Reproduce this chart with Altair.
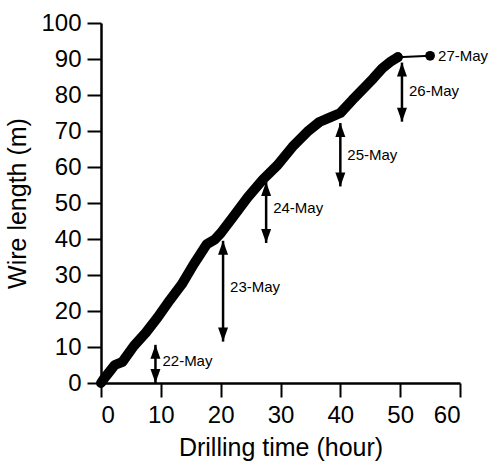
import altair as alt
import pandas as pd

# Drilling progress
hours = [0.0, 0.5, 1.5, 2.3, 3.6, 5.5, 7.5, 9.5, 11.5, 13.5, 15.5, 17.7, 19.0,
         20.0, 22.0, 24.5, 27.1, 29.5, 32.0, 34.5, 36.5, 38.3, 40.0, 42.0,
         44.0, 45.5, 47.0, 48.5, 49.6]
lengths = [0.0, 1.2, 3.3, 5.0, 5.9, 10.3, 14.0, 18.3, 23.0, 27.4, 33.0, 38.6, 39.8,
           41.6, 46.0, 51.5, 56.6, 60.5, 65.6, 69.8, 72.5, 73.8, 75.0, 78.6,
           82.0, 84.6, 87.4, 89.4, 90.5]

end_hours = [49.6, 55.0]
end_lengths = [90.5, 90.9]
end_label = "27-May"

dates = ["22-May", "23-May", "24-May", "25-May", "26-May"]
arrow_x = [9.1, 20.4, 27.6, 40.0, 50.3]
arrow_top = [10.6, 39.5, 55.8, 72.2, 89.0]
arrow_bottom = [0.0, 11.5, 38.9, 54.6, 72.6]
label_y = [6.0, 26.8, 48.5, 63.4, 81.2]

FONT = "Liberation Sans"

curve = pd.DataFrame({"h": hours, "m": lengths, "o": list(range(len(hours)))})
tail = pd.DataFrame({"h": end_hours, "m": end_lengths, "o": [0, 1]})
tail_label = pd.DataFrame({"h": [end_hours[-1]], "m": [end_lengths[-1]], "t": [end_label]})
arrows = pd.DataFrame({"d": dates, "x": arrow_x, "top": arrow_top,
                       "bot": arrow_bottom, "ly": label_y})

xscale = alt.Scale(domain=[0, 60], nice=False, zero=False)
yscale = alt.Scale(domain=[0, 100], nice=False, zero=False)

axis_common = dict(grid=False, tickSize=14, tickWidth=2, tickColor="black",
                   domainColor="black", domainWidth=2.5, labelColor="black",
                   titleColor="black", labelFont=FONT, titleFont=FONT,
                   labelFontSize=24, titleFontSize=25, titleFontWeight="normal")

xaxis = alt.Axis(values=list(range(0, 61, 10)), title="Drilling time (hour)",
                 labelPadding=6, titlePadding=8, **axis_common)
yaxis = alt.Axis(values=list(range(0, 101, 10)), title="Wire length (m)",
                 labelPadding=6, titlePadding=10, **axis_common)

def X(field):
    return alt.X(field, type="quantitative", scale=xscale, axis=xaxis)

def Y(field):
    return alt.Y(field, type="quantitative", scale=yscale, axis=yaxis)

thick = alt.Chart(curve).mark_line(
    color="black", strokeWidth=10, strokeCap="round", strokeJoin="round"
).encode(x=X("h"), y=Y("m"), order="o:Q")

tail_line = alt.Chart(tail).mark_line(color="black", strokeWidth=2).encode(
    x=X("h"), y=Y("m"), order="o:Q")
tail_pts = alt.Chart(tail).mark_circle(color="black", size=95, opacity=1).encode(
    x=X("h"), y=Y("m"))
tail_txt = alt.Chart(tail_label).mark_text(
    align="left", baseline="middle", dx=8, font=FONT, fontSize=15, color="black"
).encode(x=X("h"), y=Y("m"), text="t:N")

shafts = alt.Chart(arrows).mark_rule(color="black", strokeWidth=2.5).encode(
    x=X("x"), y=Y("top"), y2="bot")
head_up = alt.Chart(arrows).mark_point(
    shape="M0,0 L-0.5,1.4 L0.5,1.4 Z", size=400, filled=True, color="black",
    opacity=1, strokeWidth=0
).encode(x=X("x"), y=Y("top"))
head_down = alt.Chart(arrows).mark_point(
    shape="M0,0 L-0.5,-1.4 L0.5,-1.4 Z", size=400, filled=True, color="black",
    opacity=1, strokeWidth=0
).encode(x=X("x"), y=Y("bot"))
labels = alt.Chart(arrows).mark_text(
    align="left", baseline="middle", dx=7, font=FONT, fontSize=15, color="black"
).encode(x=X("x"), y=Y("ly"), text="d:N")

chart = alt.layer(
    shafts, head_up, head_down, labels, thick, tail_line, tail_pts, tail_txt
).properties(
    width=359, height=360,
    autosize=alt.AutoSizeParams(type="none"),
    padding={"left": 101, "top": 23, "right": 32, "bottom": 81},
    background="white",
).configure_view(stroke=None)

chart.save("out.html", embed_options={"renderer": "svg", "actions": False})
